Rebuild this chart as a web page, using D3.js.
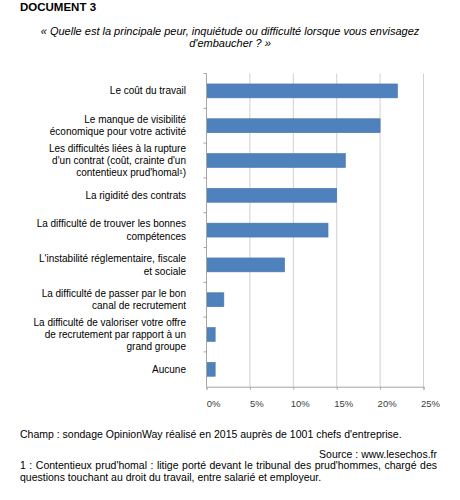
<!DOCTYPE html>
<html><head><meta charset="utf-8">
<script src="https://cdn.jsdelivr.net/npm/d3@7"></script>
<style>body{margin:0;background:#fff}svg{display:block}</style>
</head><body>
<script>
const categories = [
  "Le coût du travail",
  "Le manque de visibilité\néconomique pour votre activité",
  "Les difficultés liées à la rupture\nd'un contrat (coût, crainte d'un\ncontentieux prud'homal¹)",
  "La rigidité des contrats",
  "La difficulté de trouver les bonnes\ncompétences",
  "L'instabilité réglementaire, fiscale\net sociale",
  "La difficulté de passer par le bon\ncanal de recrutement",
  "La difficulté de valoriser votre offre\nde recrutement par rapport à un\ngrand groupe",
  "Aucune"
];
const values = [22, 20, 16, 15, 14, 9, 2, 1, 1];
const tickValues = [0, 5, 10, 15, 20, 25];
const tickLabels = ["0%", "5%", "10%", "15%", "20%", "25%"];

const W = 460, H = 500;
const svg = d3.select("body").append("svg").attr("width", W).attr("height", H);
const F = "'Liberation Sans', Arial, sans-serif";

svg.append("text").attr("x", 20).attr("y", 11).attr("font-family", F)
  .attr("font-size", 11.5).attr("font-weight", "bold").attr("fill", "#000").text("DOCUMENT 3");
const q = svg.append("text").attr("font-family", F).attr("font-size", 11).attr("font-style", "italic")
  .attr("text-anchor", "middle").attr("fill", "#000");
q.append("tspan").attr("x", 230).attr("y", 35).text("« Quelle est la principale peur, inquiétude ou difficulté lorsque vous envisagez");
q.append("tspan").attr("x", 230).attr("y", 47).text("d'embaucher ? »");

const x = d3.scaleLinear().domain([0, 25]).range([206.5, 423.5]);
const y = d3.scaleBand().domain(categories).range([73.5, 386.7]).paddingInner(0.6).paddingOuter(0.3);

// gridlines
svg.append("g").selectAll("line").data(tickValues.slice(1)).join("line")
  .attr("x1", d => x(d)).attr("x2", d => x(d)).attr("y1", 73.5).attr("y2", 386.7)
  .attr("stroke", "#d0d0d0").attr("stroke-width", 1);

// bars
svg.append("g").selectAll("rect").data(values).join("rect")
  .attr("x", x(0)).attr("y", (d, i) => y(categories[i]))
  .attr("width", d => x(d) - x(0)).attr("height", y.bandwidth())
  .attr("fill", "#4F81BD").attr("stroke", "#4776AE").attr("stroke-width", 0.6);

// left axis
const step = y.step();
const y0 = 73.5;
svg.append("line").attr("x1", x(0)).attr("x2", x(0)).attr("y1", y0).attr("y2", 386.7)
  .attr("stroke", "#a6a6a6");
svg.append("g").selectAll("line").data(d3.range(categories.length)).join("line")
  .attr("x1", x(0) - 3).attr("x2", x(0)).attr("y1", i => y0 + i * step).attr("y2", i => y0 + i * step)
  .attr("stroke", "#a6a6a6");

// bottom axis
const xAxis = d3.axisBottom(x).tickValues(tickValues).tickFormat((d, i) => tickLabels[i]).tickSize(3).tickPadding(11);
const gx = svg.append("g").attr("transform", "translate(0,386.7)").call(xAxis);
gx.select(".domain").attr("stroke", "#a6a6a6");
gx.selectAll(".tick line").attr("stroke", "#a6a6a6");
gx.selectAll(".tick text").attr("font-family", F).attr("font-size", 9.5).attr("fill", "#404040")
  .attr("dx", 6.5);

// category labels
const lh = 12.3;
svg.append("g").selectAll("text").data(categories).join("text")
  .attr("font-family", F).attr("font-size", 10).attr("fill", "#000").attr("text-anchor", "end")
  .each(function (d) {
    const lines = d.split("\n");
    const cy = y(d) + y.bandwidth() / 2;
    const start = cy - (lines.length - 1) * lh / 2 + 3.5;
    lines.forEach((l, k) => {
      d3.select(this).append("tspan").attr("x", 186).attr("y", start + k * lh).text(l);
    });
  });

// footer
svg.append("text").attr("x", 20).attr("y", 438).attr("font-family", F).attr("font-size", 10.5)
  .text("Champ : sondage OpinionWay réalisé en 2015 auprès de 1001 chefs d'entreprise.");
svg.append("text").attr("x", 437).attr("y", 458).attr("text-anchor", "end").attr("font-family", F).attr("font-size", 10.5)
  .text("Source : www.lesechos.fr");
const fn1 = svg.append("text").attr("x", 20).attr("y", 469).attr("font-family", F).attr("font-size", 10.5)
  .text("1 : Contentieux prud'homal : litige porté devant le tribunal des prud'hommes, chargé des");
const len = fn1.node().getComputedTextLength();
const nSpaces = fn1.text().split(" ").length - 1;
fn1.attr("word-spacing", (437 - 20 - len) / nSpaces);
svg.append("text").attr("x", 20).attr("y", 481).attr("font-family", F).attr("font-size", 10.5)
  .text("questions touchant au droit du travail, entre salarié et employeur.");
</script>
</body></html>
